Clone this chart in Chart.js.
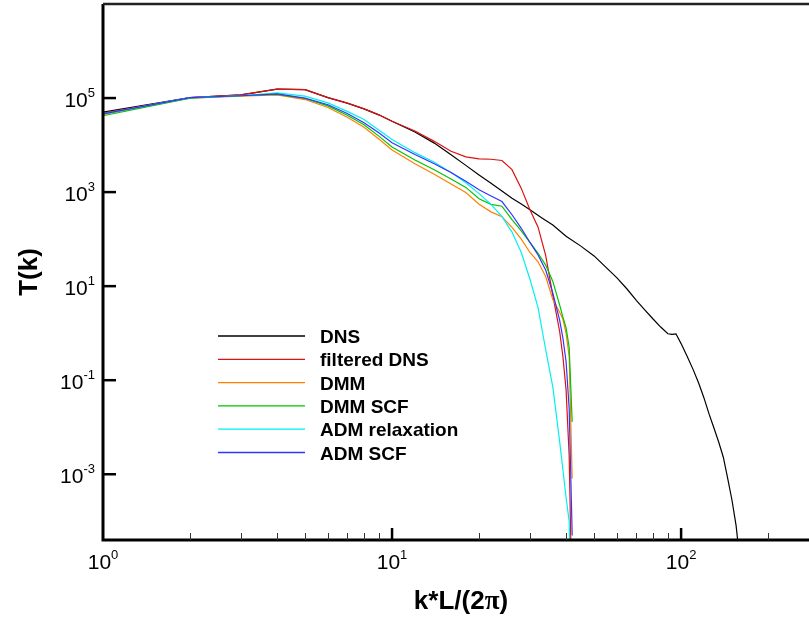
<!DOCTYPE html>
<html>
<head>
<meta charset="utf-8">
<title>T(k)</title>
<script src="https://cdn.jsdelivr.net/npm/chart.js@4.4.0/dist/chart.umd.min.js"></script>
<style>
    html, body { margin: 0; padding: 0; background: #fff; overflow: hidden; }
    #wrap { position: relative; width: 830px; height: 624px; }
</style>
</head>
<body>
<div id="wrap"><canvas id="spectrum"></canvas></div>
<script>
// numeros de onda
const kDns = [1, 2, 3, 4, 5, 6, 7, 8, 9, 10, 12, 14, 16, 18, 20, 22, 24, 26, 28, 30, 33, 36, 40, 45, 50, 55, 60, 65, 70, 75, 80, 85, 90, 93, 96, 100, 105, 110, 115, 120, 125, 130, 135, 140, 145, 150, 155, 160];
const kLes = [1, 2, 3, 4, 5, 6, 7, 8, 9, 10, 12, 14, 16, 18, 20, 22, 24, 26, 28, 30, 32, 34, 36, 38, 39, 40, 41, 42];

// T(k)
const dns = [5.0e4, 1.02e5, 1.17e5, 1.55e5, 1.51e5, 1.02e5, 7.8e4, 5.9e4, 4.4e4, 3.2e4, 1.9e4, 1.1e4, 6.2e3, 3.7e3, 2.3e3, 1.55e3, 1.05e3, 740, 560, 420, 280, 200, 115, 71, 44, 25, 15, 8.7, 5.0, 3.1, 2.0, 1.35, 0.97, 0.94, 0.97, 0.6, 0.32, 0.17, 0.087, 0.042, 0.019, 9.5e-3, 4.8e-3, 2.3e-3, 8.1e-4, 2.8e-4, 8.1e-5, 1.3e-5];
const filteredDns = [4.8e4, 1.02e5, 1.17e5, 1.55e5, 1.51e5, 1.02e5, 7.8e4, 5.9e4, 4.4e4, 3.2e4, 2.0e4, 1.2e4, 7.4e3, 5.6e3, 5.1e3, 5.0e3, 4.7e3, 3.0e3, 1.2e3, 420, 180, 45, 6.3, 1.1, 0.32, 0.063, 2.5e-3, 1e-6];
const dmm = [4.5e4, 1.0e5, 1.1e5, 1.17e5, 9.3e4, 6.3e4, 3.9e4, 2.4e4, 1.35e4, 7.9e3, 4.0e3, 2.4e3, 1.48e3, 980, 550, 380, 300, 178, 100, 52, 33, 16, 5.2, 2.8, 2.0, 1.0, 0.32, 8.1e-4];
const dmmScf = [4.2e4, 1.0e5, 1.12e5, 1.2e5, 9.8e4, 6.8e4, 4.3e4, 2.7e4, 1.55e4, 9.1e3, 4.8e3, 3.0e3, 1.9e3, 1.26e3, 720, 550, 500, 260, 150, 85, 50, 28, 12.6, 4.0, 2.2, 1.32, 0.5, 0.013];
const admRelax = [4.6e4, 1.02e5, 1.12e5, 1.29e5, 1.1e5, 7.9e4, 5.2e4, 3.5e4, 2.1e4, 1.32e4, 6.9e3, 4.3e3, 2.6e3, 1.58e3, 930, 550, 300, 141, 52, 14, 3.5, 0.45, 0.071, 5.0e-3, 1.26e-3, 3.2e-4, 1.0e-4, 1e-7];
const admScf = [4.6e4, 1.02e5, 1.12e5, 1.23e5, 1.0e5, 7.2e4, 4.7e4, 3.0e4, 1.82e4, 1.12e4, 6.3e3, 4.0e3, 2.6e3, 1.7e3, 1.12e3, 830, 630, 330, 170, 85, 46, 22, 7.1, 1.9, 0.79, 0.25, 0.025, 5e-5];

const names = ['DNS', 'filtered DNS', 'DMM', 'DMM SCF', 'ADM relaxation', 'ADM SCF'];
const colors = ['#000000', '#dd1111', '#ff8000', '#00c400', '#00f0f0', '#3333ff'];

// ticks
const xMajor = [10, 100];
const xMinor = [2, 3, 4, 5, 6, 7, 8, 9, 20, 30, 40, 50, 60, 70, 80, 90, 200, 300];
const xLabels = [[1, '0'], [10, '1'], [100, '2']];
const yLabels = [[1e5, '5'], [1e3, '3'], [1e1, '1'], [1e-1, '-1'], [1e-3, '-3']];

function pairs(ks, vals) {
    return ks.map((k, i) => ({ x: k, y: vals[i] }));
}

const series = [
    pairs(kDns, dns),
    pairs(kLes, filteredDns),
    pairs(kLes, dmm),
    pairs(kLes, dmmScf),
    pairs(kLes, admRelax),
    pairs(kLes, admScf)
];

const SANS = '"Liberation Sans", Arial, sans-serif';

// marco, ticks, etiquetas y leyenda al estilo tecplot
const framePlugin = {
    id: 'frame',
    afterDraw(chart) {
        const ctx = chart.ctx;
        const a = chart.chartArea;
        const xs = chart.scales.x;
        const ys = chart.scales.y;
        ctx.save();

        // bordes
        ctx.strokeStyle = '#000';
        ctx.lineWidth = 3;
        ctx.beginPath();
        ctx.moveTo(a.left, a.top);
        ctx.lineTo(a.left, a.bottom);
        ctx.lineTo(a.right, a.bottom);
        ctx.stroke();
        ctx.strokeStyle = '#222';
        ctx.lineWidth = 2.5;
        ctx.beginPath();
        ctx.moveTo(a.left, a.top);
        ctx.lineTo(a.right, a.top);
        ctx.stroke();

        // ticks eje x
        ctx.strokeStyle = '#000';
        ctx.lineWidth = 2.5;
        xMajor.forEach(v => {
            const px = xs.getPixelForValue(v);
            ctx.beginPath(); ctx.moveTo(px, a.bottom); ctx.lineTo(px, a.bottom - 12); ctx.stroke();
        });
        ctx.lineWidth = 1;
        ctx.strokeStyle = '#333';
        xMinor.forEach(v => {
            const px = Math.round(xs.getPixelForValue(v)) + 0.5;
            ctx.beginPath(); ctx.moveTo(px, a.bottom); ctx.lineTo(px, a.bottom - 7); ctx.stroke();
        });

        // ticks eje y
        ctx.strokeStyle = '#000';
        ctx.lineWidth = 2.5;
        yLabels.forEach(t => {
            const py = ys.getPixelForValue(t[0]);
            ctx.beginPath(); ctx.moveTo(a.left, py); ctx.lineTo(a.left + 13, py); ctx.stroke();
        });

        // etiquetas 10^n
        ctx.fillStyle = '#000';
        ctx.textBaseline = 'alphabetic';
        ctx.textAlign = 'left';
        xLabels.forEach(t => {
            const px = xs.getPixelForValue(t[0]);
            ctx.font = '21px ' + SANS;
            const w1 = ctx.measureText('10').width;
            ctx.font = '13px ' + SANS;
            const w2 = ctx.measureText(t[1]).width;
            const x0 = px - (w1 + w2) / 2;
            ctx.font = '21px ' + SANS;
            ctx.fillText('10', x0, a.bottom + 29);
            ctx.font = '13px ' + SANS;
            ctx.fillText(t[1], x0 + w1, a.bottom + 19);
        });
        yLabels.forEach(t => {
            const py = ys.getPixelForValue(t[0]);
            ctx.font = '21px ' + SANS;
            const w1 = ctx.measureText('10').width;
            ctx.font = '13px ' + SANS;
            const w2 = ctx.measureText(t[1]).width;
            const x0 = a.left - 8 - w1 - w2;
            ctx.font = '21px ' + SANS;
            ctx.fillText('10', x0, py + 9);
            ctx.font = '13px ' + SANS;
            ctx.fillText(t[1], x0 + w1, py - 1);
        });

        // titulos de los ejes
        ctx.font = 'bold 26px ' + SANS;
        ctx.save();
        ctx.translate(37, (a.top + a.bottom) / 2);
        ctx.rotate(-Math.PI / 2);
        ctx.textAlign = 'center';
        ctx.fillText('T(k)', 0, 0);
        ctx.restore();

        const p1 = 'k*L/(2';
        const p3 = ')';
        ctx.font = 'bold 26px ' + SANS;
        const w1 = ctx.measureText(p1).width;
        const w3 = ctx.measureText(p3).width;
        ctx.font = 'bold 27px "Liberation Serif", "Times New Roman", serif';
        const w2 = ctx.measureText('\u03c0').width;
        let x0 = 461 - (w1 + w2 + w3) / 2;
        ctx.textAlign = 'left';
        ctx.font = 'bold 26px ' + SANS;
        ctx.fillText(p1, x0, 609);
        ctx.font = 'bold 27px "Liberation Serif", "Times New Roman", serif';
        ctx.fillText('\u03c0', x0 + w1, 609);
        ctx.font = 'bold 26px ' + SANS;
        ctx.fillText(p3, x0 + w1 + w2, 609);

        // leyenda
        ctx.font = 'bold 19px ' + SANS;
        names.forEach((n, i) => {
            const y = 336 + i * 23.3;
            ctx.strokeStyle = colors[i];
            ctx.lineWidth = 1.3;
            ctx.beginPath(); ctx.moveTo(218, y); ctx.lineTo(305, y); ctx.stroke();
            ctx.fillText(n, 320, y + 7);
        });

        ctx.restore();
    }
};

const cv = document.getElementById('spectrum');
new Chart(cv, {
    type: 'line',
    data: {
        datasets: series.map((d, i) => ({
            label: names[i],
            data: d,
            borderColor: colors[i],
            borderWidth: 1.2,
            pointRadius: 0,
            tension: 0,
            fill: false,
            order: 6 - i
        }))
    },
    options: {
        responsive: true,
        maintainAspectRatio: false,
        animation: false,
        devicePixelRatio: 1,
        layout: { padding: { left: 103, right: 11, top: 4, bottom: 84 } },
        plugins: { legend: { display: false }, tooltip: { enabled: false } },
        scales: {
            x: { type: 'logarithmic', min: 1, max: 300, display: false },
            y: { type: 'logarithmic', min: 4e-5, max: 1e7, display: false }
        }
    },
    plugins: [framePlugin]
});
</script>
</body>
</html>
